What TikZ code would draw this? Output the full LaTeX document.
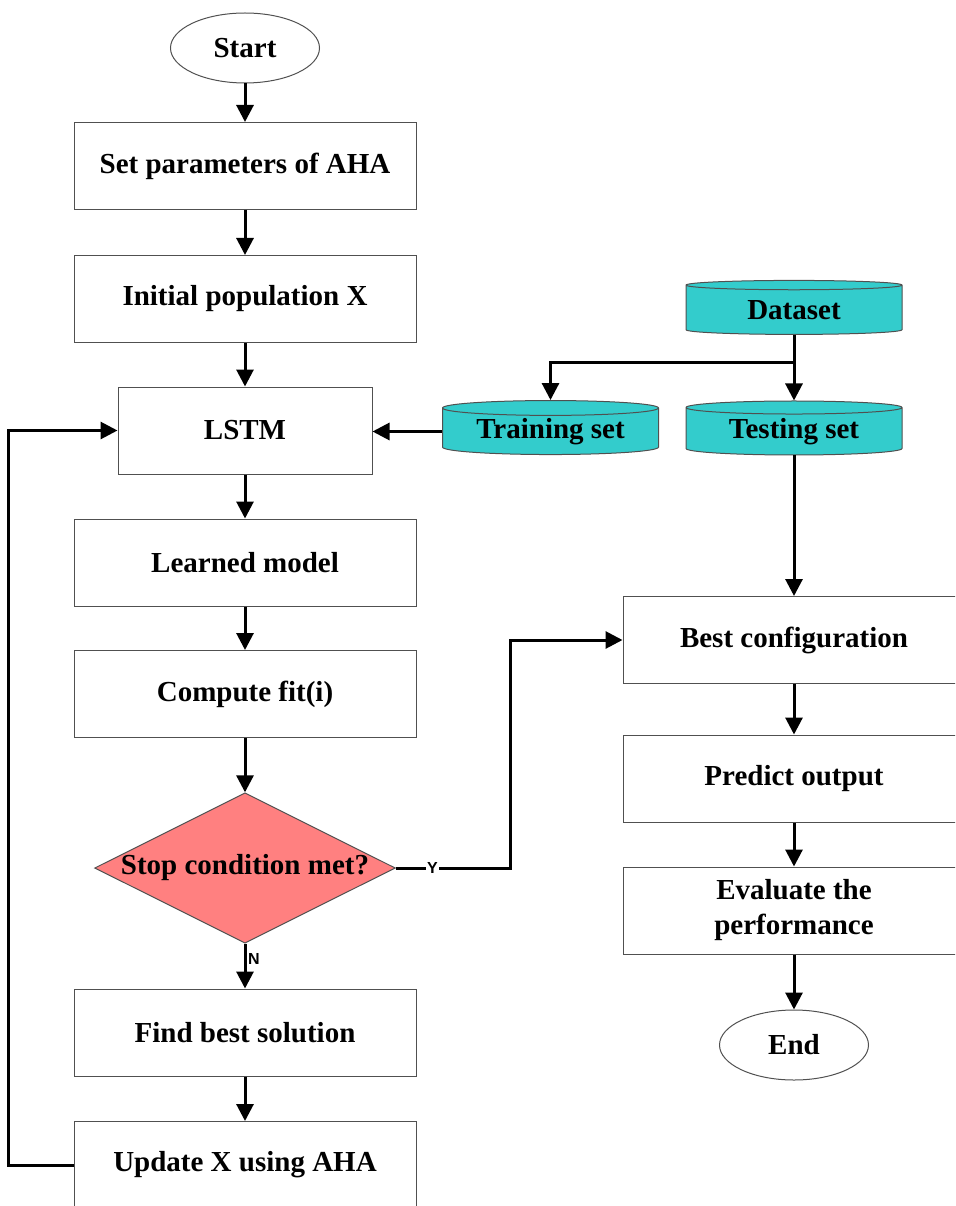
\documentclass[tikz,border=0pt]{standalone}
\usepackage{fontspec}
\setmainfont{Liberation Serif}
\setsansfont{Liberation Sans}
\usetikzlibrary{arrows.meta, shapes.geometric}

\definecolor{cian}{RGB}{51,204,204}
\definecolor{salmon}{RGB}{255,128,128}
\definecolor{borde}{RGB}{80,80,80}

\begin{document}
\begin{tikzpicture}[x=1pt, y=-1pt,
  >={Triangle[length=17pt,width=17pt]},
  every node/.style={font=\fontsize{29}{35}\selectfont\bfseries},
  caja/.style={draw=borde, line width=1pt, minimum width=342pt, minimum height=87pt, inner sep=0pt, align=center},
  ovalo/.style={ellipse, draw=borde, line width=1pt, minimum width=149pt, minimum height=70pt, inner sep=0pt},
  datos/.style={cylinder, shape border rotate=90, aspect=0.1, draw=borde, line width=1pt, fill=cian, minimum width=216pt, minimum height=54pt, inner sep=0pt},
  decision/.style={diamond, aspect=2, draw=borde, line width=1pt, fill=salmon, minimum width=300pt, minimum height=150pt, inner sep=0pt},
  flecha/.style={->, line width=3pt, black},
  etiq/.style={font=\fontsize{16}{16}\selectfont\sffamily\bfseries, inner sep=1.5pt}]
  % marco de la figura
  \path[use as bounding box, clip] (0,0) rectangle (955,1206);
  % columna izquierda: bucle del AHA
  \node[ovalo] (inicio) at (245,48) {Start};
  \node[caja] (param) at (245,166) {Set parameters of AHA};
  \node[caja] (pobl) at (245,299) {Initial population X};
  \node[caja, minimum width=254pt] (lstm) at (245,430.5) {LSTM};
  \node[caja] (modelo) at (245,562.5) {Learned model};
  \node[caja] (fit) at (245,694) {Compute fit(i)};
  \node[decision] (parada) at (245,868) {Stop condition met?};
  \node[caja] (mejor) at (245,1032.5) {Find best solution};
  \node[caja] (actual) at (245,1165) {Update X using AHA};
  % datos
  \node[datos] (dataset) at (794,310) {Dataset};
  \node[datos] (entren) at (550.5,431.5) {Training set};
  \node[datos] (prueba) at (794,431.5) {Testing set};
  % columna derecha: prediccion
  \node[caja] (config) at (794,640) {Best configuration};
  \node[caja] (predic) at (794,778.5) {Predict output};
  \node[caja] (evalua) at (794,910.5) {Evaluate the\\performance};
  \node[ovalo] (fin) at (794,1045) {End};
  % flechas
  \foreach \a/\b in {inicio/param, param/pobl, pobl/lstm, lstm/modelo, modelo/fit, fit/parada, mejor/actual, config/predic, predic/evalua, evalua/fin}
    \draw[flecha] (\a) -- (\b);
  \draw[flecha] (parada) -- node[etiq, right, pos=0.35]{N} (mejor);
  \draw[flecha] (actual.west) -- ++(-65,0) |- (lstm.west);
  \draw[flecha] (entren.west) -- (lstm.east |- entren.west);
  \coordinate (rama) at (794,362);
  \draw[flecha] (dataset.south) -- (prueba.north);
  \draw[flecha] (rama) -| (entren.north);
  \draw[flecha] (prueba.south) -- (config.north);
  \coordinate (giro) at (510,868);
  \draw[flecha] (parada.east) -- node[etiq, fill=white, pos=0.32]{Y} (giro) |- (config.west);
\end{tikzpicture}
\end{document}
